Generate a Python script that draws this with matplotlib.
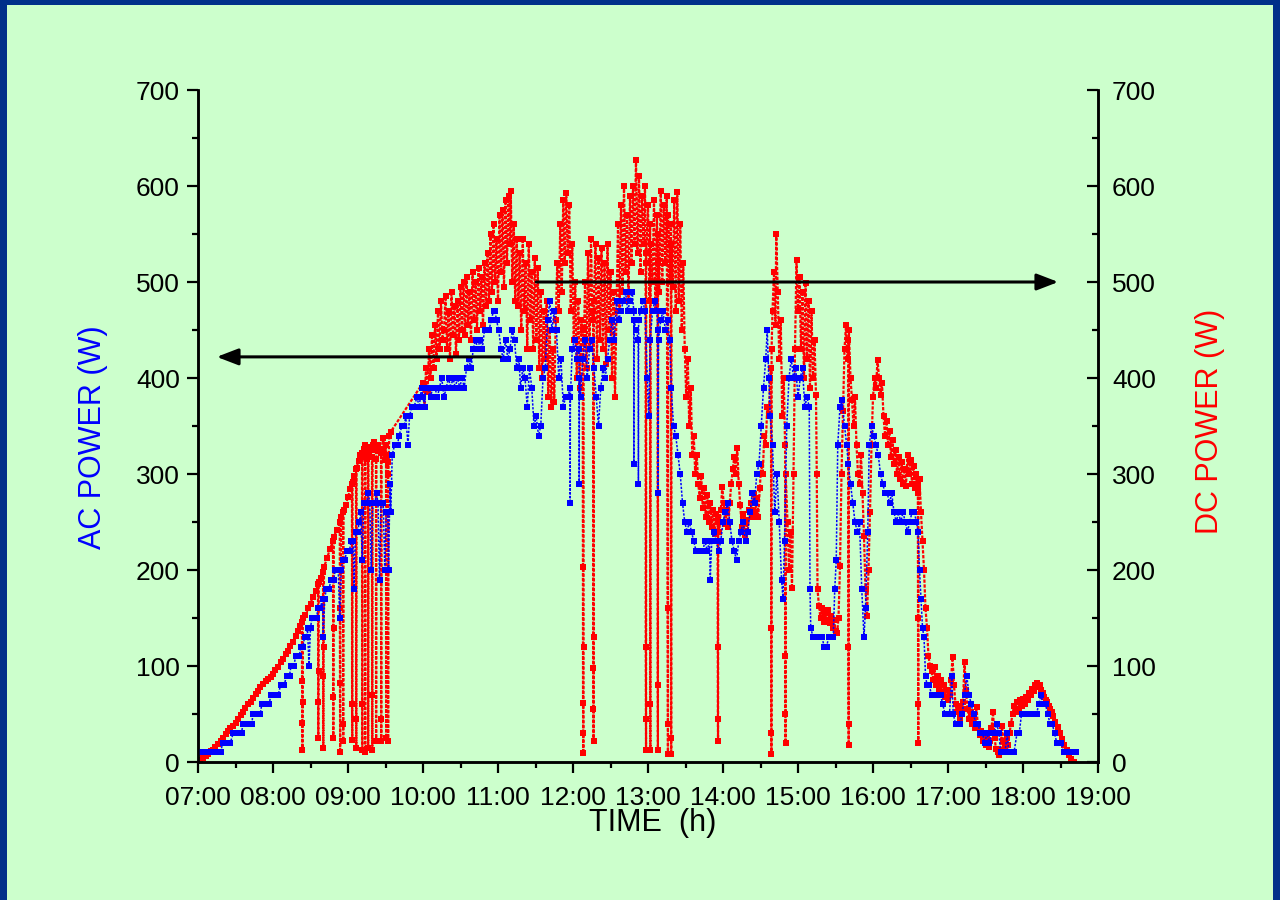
import matplotlib

matplotlib.use("Agg")
import matplotlib.pyplot as plt
from matplotlib.patches import Rectangle
from matplotlib.ticker import MultipleLocator

plt.rcParams["font.family"] = ["Liberation Sans", "DejaVu Sans"]

# DC power (W), as (hour of day, watts)
dc_morning = [
    (7.00, 0), (7.03, 2), (7.07, 4), (7.10, 6), (7.13, 8), (7.17, 11), (7.20, 13), (7.23, 16), (7.27, 19), (7.30, 22),
    (7.33, 25), (7.37, 29), (7.40, 32), (7.43, 35), (7.47, 38), (7.50, 41), (7.53, 45), (7.57, 49), (7.60, 52), (7.63, 56),
    (7.67, 60), (7.70, 63), (7.73, 67), (7.77, 71), (7.80, 74), (7.83, 78), (7.87, 81), (7.90, 84), (7.93, 86), (7.97, 89),
    (8.00, 92), (8.03, 96), (8.07, 99), (8.10, 104), (8.13, 107), (8.17, 112), (8.20, 116), (8.23, 121), (8.27, 125), (8.30, 131),
    (8.33, 136), (8.36, 142), (8.385, 146), (8.388, 84), (8.390, 41), (8.392, 12), (8.395, 62), (8.398, 150), (8.43, 153), (8.47, 160),
    (8.50, 165), (8.53, 172), (8.57, 178), (8.60, 185), (8.602, 62), (8.604, 25), (8.607, 95), (8.61, 188), (8.64, 192), (8.667, 198),
    (8.669, 90), (8.671, 15), (8.674, 120), (8.68, 203), (8.72, 212), (8.76, 222), (8.80, 230), (8.802, 68), (8.804, 25), (8.807, 140),
    (8.81, 234), (8.85, 242), (8.89, 250), (8.893, 82), (8.895, 10), (8.898, 160), (8.91, 255), (8.933, 260), (8.935, 40), (8.937, 22),
    (8.94, 262), (8.97, 268), (9.00, 276), (9.03, 284), (9.053, 290), (9.055, 60), (9.057, 23), (9.06, 292), (9.08, 298), (9.107, 305),
    (9.109, 45), (9.111, 15), (9.114, 306), (9.14, 314), (9.16, 320), (9.187, 322), (9.189, 60), (9.191, 12), (9.194, 318), (9.21, 326),
    (9.227, 330), (9.229, 10), (9.232, 322), (9.25, 316), (9.267, 328), (9.269, 15), (9.272, 320), (9.29, 325), (9.32, 318), (9.322, 70),
    (9.324, 12), (9.327, 330), (9.35, 333), (9.373, 325), (9.375, 22), (9.378, 316), (9.40, 330), (9.44, 322), (9.442, 45), (9.444, 22),
    (9.447, 326), (9.47, 338), (9.49, 315), (9.507, 330), (9.509, 25), (9.512, 320), (9.533, 312), (9.535, 22), (9.538, 300), (9.55, 340),
    (9.57, 344),
]

dc_midday = [
    (10.00, 395), (10.02, 370), (10.04, 410), (10.06, 385), (10.08, 430), (10.10, 400), (10.12, 445), (10.14, 410), (10.16, 455), (10.18, 420),
    (10.20, 470), (10.22, 430), (10.24, 480), (10.26, 440), (10.28, 450), (10.30, 485), (10.32, 430), (10.34, 470), (10.36, 420), (10.38, 490),
    (10.40, 445), (10.42, 475), (10.44, 425), (10.46, 480), (10.48, 440), (10.50, 495), (10.52, 450), (10.54, 500), (10.56, 445), (10.58, 505),
    (10.60, 455), (10.62, 490), (10.64, 440), (10.66, 510), (10.68, 460), (10.70, 500), (10.72, 450), (10.74, 515), (10.76, 470), (10.78, 505),
    (10.80, 455), (10.82, 520), (10.84, 475), (10.86, 530), (10.88, 480), (10.90, 550), (10.92, 490), (10.94, 560), (10.96, 500), (10.98, 545),
    (11.00, 480), (11.02, 570), (11.04, 510), (11.06, 575), (11.08, 495), (11.10, 585), (11.12, 520), (11.14, 590), (11.16, 540), (11.17, 595),
    (11.19, 500), (11.21, 560), (11.23, 480), (11.25, 545), (11.27, 475), (11.29, 530), (11.31, 450), (11.33, 545), (11.35, 470), (11.37, 520),
    (11.39, 430), (11.41, 540), (11.43, 460), (11.45, 510), (11.47, 430), (11.49, 525), (11.51, 440), (11.53, 515), (11.55, 410), (11.57, 490),
    (11.59, 400), (11.61, 470), (11.63, 420), (11.65, 480), (11.67, 380), (11.69, 450), (11.71, 370), (11.73, 430), (11.75, 375), (11.77, 460),
    (11.79, 520), (11.81, 470), (11.83, 560), (11.85, 490), (11.87, 585), (11.89, 520), (11.91, 593), (11.93, 530), (11.95, 580), (11.97, 470),
    (11.99, 540), (12.01, 440), (12.03, 500), (12.05, 400), (12.07, 480), (12.09, 390), (12.11, 460), (12.130, 450), (12.132, 203), (12.134, 61),
    (12.136, 30), (12.138, 9), (12.140, 120), (12.142, 420), (12.16, 500), (12.18, 410), (12.20, 530), (12.22, 430), (12.24, 545), (12.26, 460),
    (12.268, 470), (12.270, 98), (12.272, 55), (12.274, 22), (12.276, 130), (12.278, 480), (12.30, 540), (12.32, 420), (12.34, 525), (12.36, 440),
    (12.38, 535), (12.40, 430), (12.42, 520), (12.44, 415), (12.46, 540), (12.48, 450), (12.50, 510), (12.52, 400), (12.54, 490), (12.56, 380),
    (12.58, 470), (12.60, 560), (12.62, 470), (12.64, 580), (12.66, 490), (12.68, 600), (12.70, 510), (12.72, 570), (12.74, 480), (12.76, 590),
    (12.78, 520), (12.80, 600), (12.82, 540), (12.84, 627), (12.86, 530), (12.88, 610), (12.90, 510), (12.92, 590), (12.94, 540), (12.96, 600),
    (12.968, 520), (12.970, 120), (12.972, 45), (12.974, 12), (12.976, 530), (13.00, 580), (13.02, 480), (13.028, 560), (13.030, 60), (13.032, 12),
    (13.034, 540), (13.06, 500), (13.08, 585), (13.10, 470), (13.12, 570), (13.128, 520), (13.130, 80), (13.132, 12), (13.134, 550), (13.15, 490),
    (13.17, 595), (13.19, 500), (13.21, 580), (13.23, 520), (13.250, 590), (13.262, 160), (13.264, 40), (13.266, 8), (13.268, 570), (13.29, 500),
    (13.306, 560), (13.308, 25), (13.310, 8), (13.312, 540), (13.33, 495), (13.35, 585), (13.37, 470), (13.39, 594), (13.41, 480), (13.43, 560),
    (13.45, 450), (13.47, 520), (13.49, 430), (13.51, 380), (13.53, 420), (13.55, 350), (13.57, 390), (13.59, 320), (13.61, 340), (13.63, 300),
]

dc_afternoon = [
    (13.65, 320), (13.67, 290), (13.69, 275), (13.71, 298), (13.73, 265), (13.75, 285), (13.77, 255), (13.79, 278), (13.81, 250), (13.83, 270),
    (13.85, 245), (13.87, 262), (13.89, 238), (13.91, 258), (13.928, 250), (13.930, 120), (13.932, 45), (13.934, 22), (13.936, 255), (13.95, 240),
    (13.97, 262), (13.99, 286), (14.01, 270), (14.03, 248), (14.05, 262), (14.07, 245), (14.09, 270), (14.11, 290), (14.13, 305), (14.15, 318),
    (14.17, 300), (14.19, 327), (14.21, 290), (14.23, 268), (14.25, 245), (14.27, 258), (14.29, 236), (14.31, 252), (14.33, 240), (14.35, 262),
    (14.37, 270), (14.39, 255), (14.41, 279), (14.43, 260), (14.45, 275), (14.47, 255), (14.49, 285), (14.51, 310), (14.53, 300), (14.55, 340),
    (14.57, 330), (14.59, 370), (14.61, 360), (14.63, 400), (14.640, 410), (14.642, 140), (14.644, 30), (14.646, 8), (14.648, 430), (14.66, 470),
    (14.68, 510), (14.70, 455), (14.71, 550), (14.73, 490), (14.75, 420), (14.77, 460), (14.79, 360), (14.81, 400), (14.828, 330), (14.830, 110),
    (14.832, 50), (14.834, 20), (14.836, 300), (14.86, 250), (14.88, 200), (14.90, 240), (14.92, 181), (14.94, 300), (14.96, 430), (14.98, 523),
    (15.00, 470), (15.02, 505), (15.04, 430), (15.06, 490), (15.08, 400), (15.10, 499), (15.12, 420), (15.14, 480), (15.16, 390), (15.18, 470),
    (15.20, 400), (15.22, 440), (15.24, 382), (15.25, 300), (15.26, 180), (15.28, 162), (15.30, 150), (15.32, 160), (15.34, 146), (15.36, 155),
    (15.38, 148), (15.40, 158), (15.42, 145), (15.44, 152), (15.46, 140), (15.48, 148), (15.50, 136), (15.52, 134), (15.54, 150), (15.56, 204),
    (15.58, 300), (15.60, 366), (15.62, 430), (15.64, 455), (15.66, 420), (15.670, 440), (15.672, 120), (15.674, 40), (15.676, 18), (15.678, 450),
    (15.70, 400), (15.72, 377), (15.74, 350), (15.76, 380), (15.78, 330), (15.80, 300), (15.82, 290), (15.84, 320), (15.86, 280), (15.88, 235),
    (15.90, 180), (15.92, 152), (15.94, 200), (15.96, 260), (15.98, 330), (16.00, 380), (16.02, 400), (16.04, 390), (16.06, 419), (16.08, 400),
    (16.10, 382), (16.12, 395), (16.14, 360), (16.16, 340), (16.18, 355), (16.20, 330), (16.22, 345), (16.24, 318), (16.26, 335), (16.28, 310),
    (16.30, 325), (16.32, 300), (16.34, 318), (16.36, 295), (16.38, 312), (16.40, 290), (16.42, 305), (16.44, 288), (16.46, 320), (16.48, 300),
    (16.50, 315), (16.52, 290), (16.54, 308), (16.56, 285), (16.58, 300), (16.598, 290), (16.600, 150), (16.602, 60), (16.604, 20), (16.606, 280),
    (16.62, 295), (16.64, 260), (16.66, 230), (16.68, 200), (16.70, 160), (16.72, 140), (16.74, 110), (16.76, 100),
]

dc_evening = [
    (16.78, 95), (16.80, 85), (16.82, 99), (16.84, 80), (16.86, 90), (16.88, 75), (16.90, 85), (16.92, 72), (16.94, 80), (16.96, 68),
    (16.98, 75), (17.00, 65), (17.02, 70), (17.04, 85), (17.06, 109), (17.08, 80), (17.10, 60), (17.12, 52), (17.14, 58), (17.16, 46),
    (17.18, 55), (17.20, 62), (17.22, 104), (17.24, 75), (17.26, 55), (17.28, 45), (17.30, 52), (17.32, 40), (17.34, 48), (17.36, 35),
    (17.38, 57), (17.40, 35), (17.42, 28), (17.44, 32), (17.46, 22), (17.48, 28), (17.50, 18), (17.52, 24), (17.54, 16), (17.56, 22),
    (17.58, 35), (17.60, 52), (17.62, 25), (17.64, 14), (17.66, 10), (17.68, 7), (17.70, 12), (17.72, 37), (17.74, 22), (17.76, 16),
    (17.78, 25), (17.80, 18), (17.82, 30), (17.84, 40), (17.86, 50), (17.88, 58), (17.90, 52), (17.92, 62), (17.94, 55), (17.96, 65),
    (17.98, 58), (18.00, 66), (18.02, 60), (18.04, 68), (18.06, 65), (18.08, 72), (18.10, 70), (18.12, 76), (18.14, 74), (18.16, 80),
    (18.18, 82), (18.20, 78), (18.22, 80), (18.24, 75), (18.26, 72), (18.28, 68), (18.30, 65), (18.32, 62), (18.34, 58), (18.36, 55),
    (18.38, 52), (18.40, 48), (18.43, 42), (18.46, 36), (18.49, 30), (18.52, 24), (18.55, 18), (18.58, 12), (18.61, 7), (18.64, 3),
    (18.68, 0),
]

# AC power (W), logged in 10 W steps
ac_morning = [
    (7.00, 10), (7.05, 10), (7.10, 10), (7.15, 10), (7.20, 10), (7.25, 10), (7.30, 10), (7.33, 20), (7.38, 20), (7.43, 20),
    (7.47, 30), (7.52, 30), (7.58, 30), (7.60, 40), (7.65, 40), (7.72, 40), (7.73, 50), (7.78, 50), (7.83, 50), (7.85, 60),
    (7.90, 60), (7.95, 60), (7.97, 70), (8.02, 70), (8.07, 70), (8.10, 80), (8.15, 80), (8.18, 90), (8.22, 90), (8.24, 100),
    (8.28, 100), (8.30, 110), (8.35, 110), (8.37, 120), (8.40, 120), (8.42, 130), (8.45, 130), (8.46, 140), (8.48, 100), (8.50, 140),
    (8.52, 150), (8.58, 150), (8.60, 160), (8.63, 160), (8.66, 170), (8.67, 130), (8.69, 170), (8.71, 180), (8.75, 180), (8.77, 190),
    (8.81, 190), (8.83, 200), (8.87, 200), (8.89, 150), (8.91, 200), (8.93, 210), (8.96, 210), (8.98, 220), (9.02, 220), (9.04, 230),
    (9.07, 230), (9.08, 180), (9.10, 240), (9.13, 240), (9.15, 250), (9.17, 260), (9.19, 210), (9.21, 270), (9.25, 270), (9.27, 280),
    (9.29, 270), (9.31, 200), (9.33, 270), (9.36, 270), (9.38, 280), (9.40, 270), (9.42, 190), (9.44, 270), (9.47, 270), (9.49, 200),
    (9.51, 260), (9.53, 260), (9.54, 200), (9.56, 290), (9.57, 260), (9.59, 320), (9.62, 330), (9.66, 330), (9.68, 340), (9.72, 350),
    (9.75, 350), (9.77, 360), (9.80, 330), (9.82, 360), (9.85, 370), (9.88, 370), (9.92, 380), (9.95, 370), (9.98, 390), (10.00, 380),
]

ac_midday = [
    (10.02, 370), (10.04, 390), (10.07, 390), (10.10, 380), (10.13, 390), (10.16, 390), (10.19, 380), (10.22, 390), (10.25, 400), (10.28, 380),
    (10.31, 390), (10.34, 400), (10.37, 390), (10.40, 400), (10.43, 390), (10.46, 400), (10.49, 390), (10.52, 400), (10.55, 390), (10.58, 410),
    (10.61, 420), (10.64, 410), (10.67, 430), (10.70, 440), (10.73, 430), (10.76, 440), (10.79, 430), (10.82, 450), (10.85, 450), (10.88, 450),
    (10.91, 460), (10.94, 470), (10.96, 470), (10.98, 460), (11.01, 450), (11.04, 430), (11.07, 420), (11.10, 440), (11.13, 420), (11.16, 430),
    (11.19, 450), (11.22, 440), (11.25, 410), (11.28, 420), (11.30, 390), (11.33, 410), (11.36, 400), (11.39, 370), (11.42, 410), (11.45, 390),
    (11.48, 350), (11.51, 360), (11.54, 340), (11.57, 350), (11.60, 400), (11.63, 410), (11.66, 460), (11.69, 480), (11.72, 450), (11.75, 470),
    (11.78, 450), (11.81, 400), (11.84, 420), (11.87, 370), (11.90, 380), (11.93, 380), (11.96, 390), (11.962, 270), (11.965, 380), (11.99, 430),
    (12.02, 440), (12.05, 420), (12.08, 430), (12.082, 290), (12.085, 400), (12.10, 380), (12.13, 420), (12.16, 440), (12.19, 400), (12.22, 430),
    (12.25, 440), (12.28, 410), (12.31, 380), (12.34, 350), (12.37, 390), (12.40, 410), (12.43, 400), (12.46, 420), (12.49, 440), (12.52, 460),
    (12.55, 440), (12.58, 480), (12.61, 460), (12.64, 470), (12.67, 480), (12.70, 490), (12.73, 470), (12.76, 480), (12.79, 490), (12.81, 470),
    (12.812, 310), (12.815, 460), (12.84, 450), (12.87, 440), (12.872, 290), (12.875, 460), (12.90, 470), (12.93, 480), (12.96, 470), (12.99, 400),
    (13.01, 360), (13.03, 440), (13.06, 470), (13.09, 480), (13.12, 470), (13.13, 450), (13.135, 280), (13.14, 440), (13.17, 460), (13.20, 470),
    (13.23, 450), (13.26, 460), (13.29, 440), (13.31, 390), (13.34, 350), (13.37, 340), (13.40, 320), (13.43, 300),
]

ac_afternoon = [
    (13.46, 270), (13.49, 250), (13.52, 240), (13.55, 250), (13.58, 240), (13.61, 230), (13.64, 220), (13.67, 220), (13.70, 220), (13.73, 220),
    (13.76, 230), (13.79, 220), (13.82, 230), (13.83, 190), (13.85, 230), (13.88, 240), (13.91, 230), (13.94, 220), (13.97, 230), (14.00, 250),
    (14.03, 260), (14.06, 270), (14.09, 250), (14.12, 230), (14.15, 220), (14.18, 210), (14.21, 230), (14.24, 240), (14.27, 250), (14.30, 230),
    (14.33, 240), (14.36, 260), (14.39, 280), (14.42, 270), (14.45, 300), (14.48, 310), (14.51, 350), (14.54, 390), (14.57, 420), (14.59, 450),
    (14.61, 400), (14.63, 360), (14.66, 330), (14.69, 260), (14.72, 300), (14.75, 250), (14.78, 190), (14.80, 170), (14.82, 230), (14.85, 350),
    (14.88, 400), (14.91, 420), (14.94, 400), (14.97, 410), (15.00, 380), (15.03, 400), (15.06, 410), (15.09, 370), (15.12, 380), (15.15, 370),
    (15.16, 180), (15.17, 140), (15.20, 130), (15.23, 130), (15.26, 130), (15.29, 130), (15.32, 130), (15.35, 120), (15.38, 120), (15.41, 130),
    (15.44, 130), (15.47, 130), (15.49, 180), (15.51, 210), (15.53, 330), (15.56, 370), (15.59, 377), (15.62, 350), (15.65, 330), (15.67, 310),
    (15.70, 290), (15.73, 270), (15.76, 250), (15.79, 240), (15.82, 250), (15.85, 180), (15.88, 130), (15.90, 160), (15.93, 240), (15.95, 330),
    (15.98, 350), (16.01, 340), (16.04, 330), (16.07, 320), (16.10, 300), (16.13, 290), (16.16, 280), (16.19, 280), (16.22, 270), (16.25, 280),
    (16.28, 260), (16.31, 250), (16.34, 260), (16.37, 250), (16.40, 260), (16.43, 250), (16.46, 240), (16.49, 250), (16.52, 260), (16.55, 260),
    (16.58, 250), (16.60, 240), (16.62, 200), (16.64, 170), (16.66, 140), (16.68, 130), (16.70, 90), (16.72, 80),
]

ac_evening = [
    (16.75, 80), (16.78, 70), (16.81, 70), (16.84, 70), (16.87, 70), (16.90, 70), (16.93, 60), (16.96, 50), (16.99, 50), (17.02, 50),
    (17.05, 90), (17.07, 50), (17.10, 40), (17.13, 40), (17.16, 40), (17.19, 50), (17.22, 70), (17.25, 90), (17.28, 70), (17.31, 60),
    (17.34, 50), (17.37, 40), (17.40, 40), (17.43, 30), (17.46, 30), (17.49, 20), (17.52, 30), (17.55, 20), (17.58, 30), (17.62, 30),
    (17.65, 40), (17.68, 30), (17.70, 10), (17.73, 10), (17.76, 10), (17.79, 30), (17.81, 10), (17.84, 10), (17.88, 10), (17.92, 30),
    (17.95, 30), (17.98, 50), (18.02, 50), (18.06, 50), (18.10, 50), (18.14, 50), (18.18, 50), (18.21, 60), (18.24, 70), (18.27, 60),
    (18.30, 60), (18.33, 50), (18.36, 40), (18.39, 40), (18.42, 30), (18.45, 20), (18.48, 20), (18.51, 20), (18.54, 10), (18.58, 10),
    (18.62, 10), (18.66, 10), (18.70, 10),
]

hour_ticks = list(range(7, 20))
hour_labels = [f"{h:02d}:00" for h in hour_ticks]

# arrows pointing each curve to its axis: (tail hour, head hour, watts)
ac_arrow = (11.03, 7.25, 422)
dc_arrow = (11.51, 18.47, 500)

GREEN = "#ccffcc"
NAVY = "#00308a"


def unzip(*segments):
    rows = [row for seg in segments for row in seg]
    return [r[0] for r in rows], [r[1] for r in rows]


dc_t, dc_w = unzip(dc_morning, dc_midday, dc_afternoon, dc_evening)
ac_t, ac_w = unzip(ac_morning, ac_midday, ac_afternoon, ac_evening)

fig = plt.figure(figsize=(12.8, 9), dpi=100)
fig.patch.set_facecolor(NAVY)
fig.patches.append(
    Rectangle((7 / 1280, 0), 1266 / 1280, 895 / 900, transform=fig.transFigure,
              facecolor=GREEN, edgecolor="none", zorder=-5)
)

ax = fig.add_axes([198 / 1280, 138 / 900, 900 / 1280, 672 / 900])
ax.patch.set_alpha(0)

ax.plot(dc_t, dc_w, color="#ff0000", linestyle=(0, (1.5, 0.7)), linewidth=1.6,
        marker="s", markersize=4.8, markeredgewidth=0, zorder=2)
ax.plot(ac_t, ac_w, color="#0000ff", linestyle=(0, (1.5, 1)), linewidth=1.1,
        marker="s", markersize=4.0, markeredgewidth=0, zorder=3)

arrow_props = dict(arrowstyle="-|>,head_length=0.65,head_width=0.25",
                   color="black", lw=2.2, mutation_scale=20, shrinkA=0, shrinkB=0)
ax.annotate("", xy=(ac_arrow[1], ac_arrow[2]), xytext=(ac_arrow[0], ac_arrow[2]),
            arrowprops=arrow_props, zorder=5)
ax.annotate("", xy=(dc_arrow[1], dc_arrow[2]), xytext=(dc_arrow[0], dc_arrow[2]),
            arrowprops=arrow_props, zorder=5)

ax.set_xlim(7, 19)
ax.set_ylim(0, 700)
ax.set_xticks(hour_ticks)
ax.set_xticklabels(hour_labels)
ax.xaxis.set_minor_locator(MultipleLocator(0.5))
ax.yaxis.set_major_locator(MultipleLocator(100))
ax.yaxis.set_minor_locator(MultipleLocator(50))

ax.tick_params(axis="x", which="major", direction="out", length=8, width=1.6, pad=9, labelsize=19)
ax.tick_params(axis="x", which="minor", direction="out", length=4.5, width=1.6)
ax.tick_params(axis="y", which="major", direction="out", length=8, width=1.6, pad=5, labelsize=19)
ax.tick_params(axis="y", which="minor", direction="out", length=4.5, width=1.6)

ax2 = ax.twinx()
ax2.set_ylim(0, 700)
ax2.yaxis.set_major_locator(MultipleLocator(100))
ax2.yaxis.set_minor_locator(MultipleLocator(50))
ax2.tick_params(axis="y", which="major", direction="in", length=8, width=1.6, pad=10, labelsize=19)
ax2.tick_params(axis="y", which="minor", direction="in", length=4.5, width=1.6)

for a in (ax, ax2):
    a.spines["top"].set_visible(False)
    for side in ("left", "right", "bottom"):
        a.spines[side].set_linewidth(1.8)

ax.text(-0.117, 0.484, "AC POWER (W)", transform=ax.transAxes, rotation=90,
        ha="center", va="center", fontsize=22, color="#0000ff")
ax.text(1.124, 0.507, "DC POWER (W)", transform=ax.transAxes, rotation=90,
        ha="center", va="center", fontsize=22, color="#ff0000")
ax.text(0.505, -0.091, "TIME  (h)", transform=ax.transAxes,
        ha="center", va="center", fontsize=22, color="black")

fig.savefig("out.png", dpi=100, facecolor=fig.get_facecolor())
